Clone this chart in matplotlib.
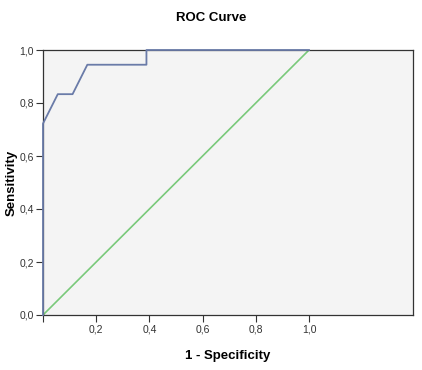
import matplotlib
matplotlib.use('Agg')
import matplotlib.pyplot as plt

fpr = [0, 0, 1/18, 2/18, 3/18, 7/18, 7/18, 1.0]
tpr = [0, 13/18, 15/18, 15/18, 17/18, 17/18, 1.0, 1.0]
ref = [0, 1]
xticks = [0, 0.2, 0.4, 0.6, 0.8, 1.0]
xlabels = ['', '0,2', '0,4', '0,6', '0,8', '1,0']
yticks = [0, 0.2, 0.4, 0.6, 0.8, 1.0]
ylabels = ['0,0', '0,2', '0,4', '0,6', '0,8', '1,0']

plt.rcParams['font.family'] = ['Liberation Sans', 'DejaVu Sans']
fig = plt.figure(figsize=(4.22, 3.70), dpi=100)
ax = fig.add_axes([43/422, 1 - 315/370, 370/422, 265/370])
ax.set_facecolor('#f4f4f4')

ax.plot(ref, ref, color='#79c97a', linewidth=1.2)
ax.plot(fpr, tpr, color='#6a7ba8', linewidth=1.3, clip_on=False, zorder=5)

ax.set_xlim(0, 370/266)
ax.set_ylim(0, 1)
ax.set_xticks(xticks, labels=xlabels)
ax.set_yticks(yticks, labels=ylabels)
ax.tick_params(labelsize=7.5, length=5, pad=1.5, color='#333333', labelcolor='#333333')
for s in ax.spines.values():
    s.set_color('#333333')
    s.set_linewidth(0.9)

ax.set_xlabel('1 - Specificity', fontsize=9.5, fontweight='bold')
ax.xaxis.set_label_coords(0.5, -(350 - 315) / 265)
ax.set_ylabel('Sensitivity', fontsize=9.5, fontweight='bold', va='center')
ax.yaxis.set_label_coords(-(43 - 12) / 370, 0.5)
fig.text(0.5, 1 - 18/370, 'ROC Curve', ha='center', va='center', fontsize=9.5, fontweight='bold')

fig.savefig('out.png', dpi=100)
